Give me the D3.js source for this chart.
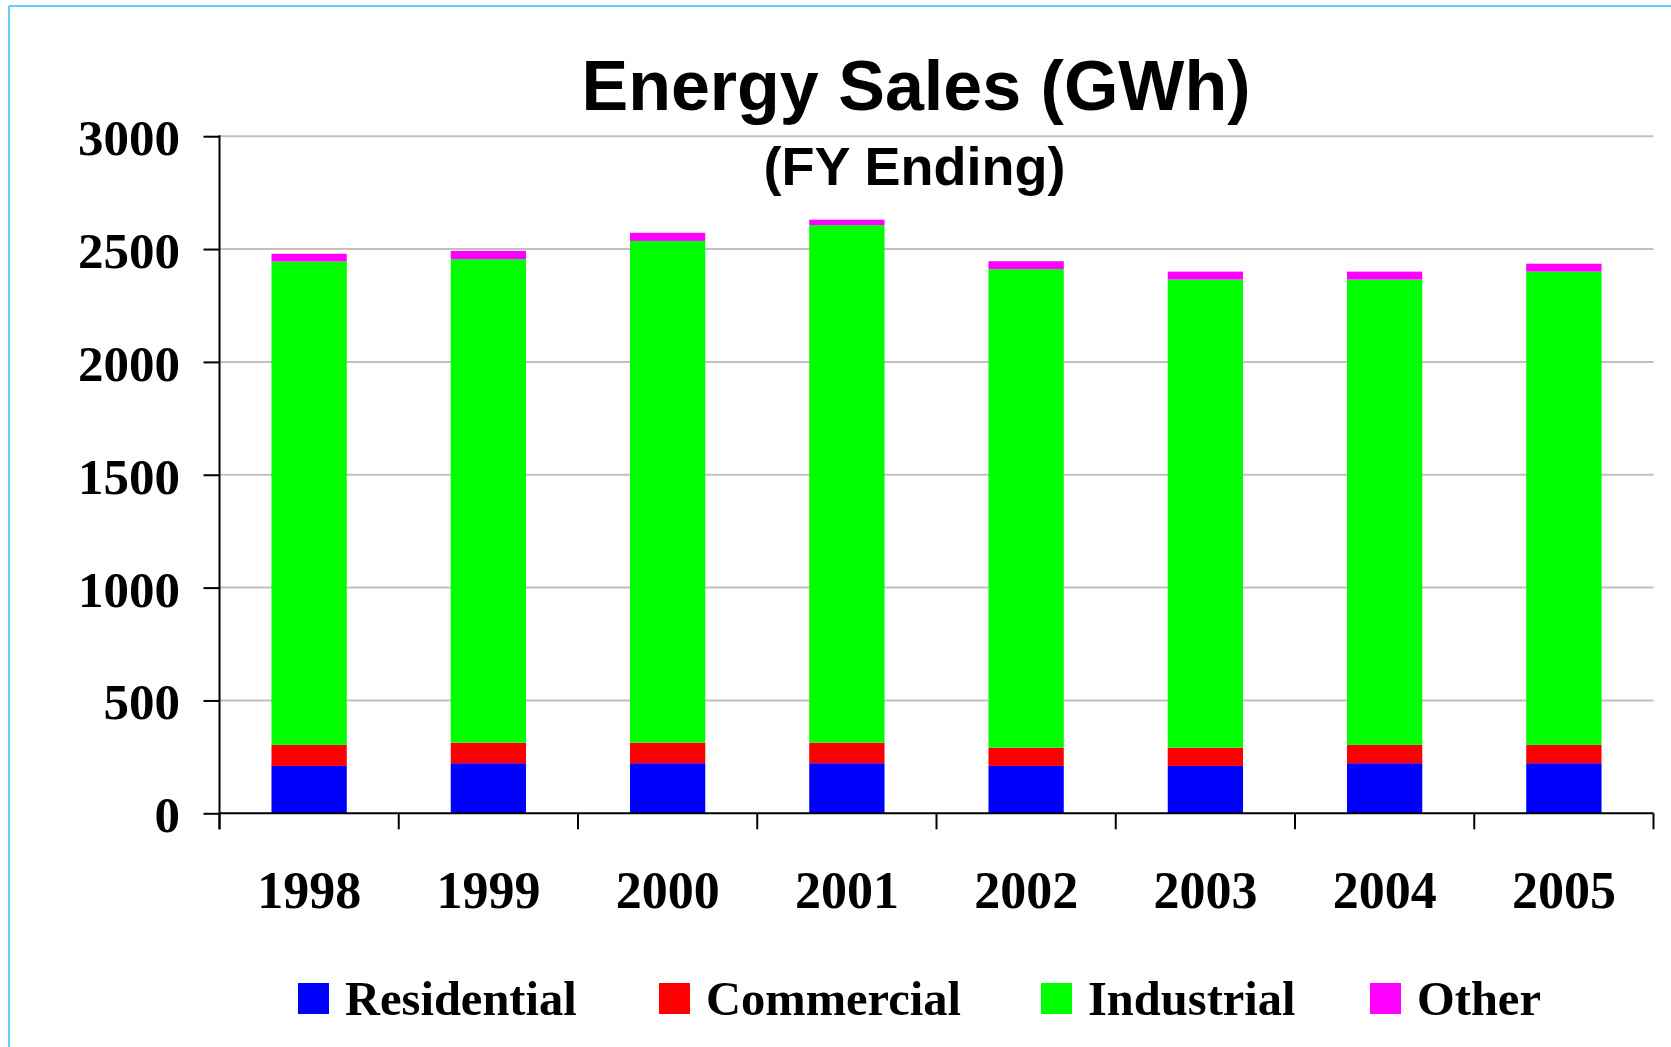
<!DOCTYPE html>
<html>
<head>
<meta charset="utf-8">
<script src="https://cdn.jsdelivr.net/npm/d3@7"></script>
<style>
  body { margin: 0; background: #fff; }
  svg { display: block; }
</style>
</head>
<body>
<div class="chart"></div>
<script>
const years = ['1998', '1999', '2000', '2001', '2002', '2003', '2004', '2005']
const residential = [210, 222, 222, 222, 210, 210, 222, 222]
const commercial = [93, 91, 91, 91, 81, 81, 81, 81]
const industrial = [2142, 2142, 2223, 2293, 2120, 2074, 2062, 2097]
const other = [34, 37, 36, 24, 35, 35, 35, 35]
const seriesNames = ['Residential', 'Commercial', 'Industrial', 'Other']
const seriesColors = ['#0000ff', '#ff0000', '#00ff00', '#ff00ff']
const yTicks = [0, 500, 1000, 1500, 2000, 2500, 3000]

const width = 1671
const height = 1047
const plotLeft = 219.5
const plotRight = 1653.5
const plotTop = 136.2
const plotBottom = 813.3

const rows = years.map((y, i) => ({
  year: y,
  Residential: residential[i],
  Commercial: commercial[i],
  Industrial: industrial[i],
  Other: other[i]
}))

const svg = d3.select('.chart')
  .append('svg')
  .attr('width', width)
  .attr('height', height)

// light blue frame (only top and left edges show)
svg.append('line')
  .attr('x1', 9).attr('x2', width).attr('y1', 6).attr('y2', 6)
  .attr('stroke', '#66ccff').attr('stroke-width', 2)
svg.append('line')
  .attr('x1', 9).attr('x2', 9).attr('y1', 6).attr('y2', height)
  .attr('stroke', '#66ccff').attr('stroke-width', 2)

const yScale = d3.scaleLinear().domain([0, 3000]).range([plotBottom, plotTop])
const xBand = d3.scaleBand().domain(years).range([plotLeft, plotRight]).paddingInner(0.58).paddingOuter(0.29)
const xEdge = d3.scaleBand().domain(years).range([plotLeft, plotRight]).padding(0)

// gridlines
svg.append('g')
  .selectAll('line')
  .data(yTicks.filter(d => d > 0))
  .enter()
  .append('line')
  .attr('x1', plotLeft)
  .attr('x2', plotRight)
  .attr('y1', d => yScale(d))
  .attr('y2', d => yScale(d))
  .attr('stroke', '#c0c0c0')
  .attr('stroke-width', 2)

// stacked bars
const stacked = d3.stack().keys(seriesNames)(rows)
svg.append('g')
  .selectAll('g')
  .data(stacked)
  .enter()
  .append('g')
  .attr('fill', (_, i) => seriesColors[i])
  .selectAll('rect')
  .data(d => d)
  .enter()
  .append('rect')
  .attr('x', d => xBand(d.data.year))
  .attr('width', xBand.bandwidth())
  .attr('y', d => yScale(d[1]))
  .attr('height', d => yScale(d[0]) - yScale(d[1]))

// y axis
const yAxis = d3.axisLeft(yScale).tickValues(yTicks).tickSize(16).tickFormat('')
const yg = svg.append('g')
  .attr('transform', `translate(${plotLeft}, 0)`)
  .call(yAxis)
yg.select('.domain').remove()
yg.selectAll('.tick line').attr('stroke', '#000').attr('stroke-width', 2)
svg.append('line')
  .attr('x1', plotLeft).attr('x2', plotLeft)
  .attr('y1', plotTop - 1).attr('y2', plotBottom + 16)
  .attr('stroke', '#000').attr('stroke-width', 2)

svg.append('g')
  .selectAll('text')
  .data(yTicks)
  .enter()
  .append('text')
  .attr('x', 180)
  .attr('y', d => yScale(d) + 19)
  .attr('text-anchor', 'end')
  .style('font-family', '"Liberation Serif", "Times New Roman", serif')
  .style('font-weight', 'bold')
  .style('font-size', '51px')
  .text(d => d)

// x axis
svg.append('line')
  .attr('x1', plotLeft).attr('x2', plotRight)
  .attr('y1', plotBottom).attr('y2', plotBottom)
  .attr('stroke', '#000').attr('stroke-width', 2)

const edges = years.map(y => xEdge(y)).concat([plotRight])
svg.append('g')
  .selectAll('line')
  .data(edges)
  .enter()
  .append('line')
  .attr('x1', d => d).attr('x2', d => d)
  .attr('y1', plotBottom).attr('y2', plotBottom + 16)
  .attr('stroke', '#000').attr('stroke-width', 2)

svg.append('g')
  .selectAll('text')
  .data(years)
  .enter()
  .append('text')
  .attr('x', d => xEdge(d) + xEdge.bandwidth() / 2)
  .attr('y', 908)
  .attr('text-anchor', 'middle')
  .style('font-family', '"Liberation Serif", "Times New Roman", serif')
  .style('font-weight', 'bold')
  .style('font-size', '52px')
  .text(d => d)

// titles
svg.append('text')
  .attr('x', 916)
  .attr('y', 109.5)
  .attr('text-anchor', 'middle')
  .style('font-family', '"Liberation Sans", Arial, sans-serif')
  .style('font-weight', 'bold')
  .style('font-size', '70px')
  .text('Energy Sales (GWh)')

svg.append('text')
  .attr('x', 914.5)
  .attr('y', 184.5)
  .attr('text-anchor', 'middle')
  .style('font-family', '"Liberation Sans", Arial, sans-serif')
  .style('font-weight', 'bold')
  .style('font-size', '54px')
  .text('(FY Ending)')

// legend
const legendX = [298, 659, 1041, 1370]
const legend = svg.append('g')
  .selectAll('g')
  .data(seriesNames)
  .enter()
  .append('g')
  .attr('transform', (_, i) => `translate(${legendX[i]}, 983)`)

legend.append('rect')
  .attr('width', 31)
  .attr('height', 31)
  .attr('fill', (_, i) => seriesColors[i])

legend.append('text')
  .attr('x', 47)
  .attr('y', 32)
  .style('font-family', '"Liberation Serif", "Times New Roman", serif')
  .style('font-weight', 'bold')
  .style('font-size', '48.5px')
  .text(d => d)
</script>
</body>
</html>
